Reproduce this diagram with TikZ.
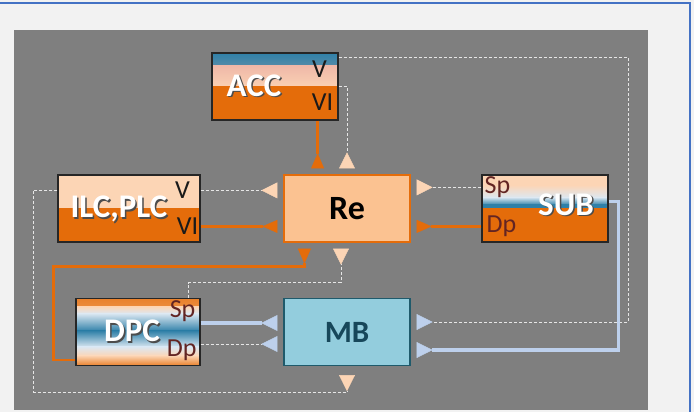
\documentclass[tikz,border=0pt]{standalone}
\usepackage{fontspec}
\setmainfont{Carlito}
\usetikzlibrary{positioning, calc, arrows.meta}

\definecolor{pagebg}{HTML}{F2F2F2}
\definecolor{framebl}{HTML}{4472C4}
\definecolor{panelgr}{HTML}{7F7F7F}
\definecolor{orng}{HTML}{E46C0A}
\definecolor{repeach}{HTML}{FBC291}
\definecolor{ltpeach}{HTML}{FCD5B5}
\definecolor{accpink}{HTML}{EFB8A8}
\definecolor{deepbl}{HTML}{2F80A8}
\definecolor{paleblue}{HTML}{DCE8F2}
\definecolor{lineblue}{HTML}{BDD0EC}
\definecolor{mbfill}{HTML}{93CDDD}
\definecolor{mbline}{HTML}{1F5A6B}
\definecolor{mbtext}{HTML}{17475A}
\definecolor{dashcol}{HTML}{E6E6E6}
\definecolor{porttext}{HTML}{1A1A1A}
\definecolor{portred}{HTML}{632523}

% horizontal colour band inside a box, from fraction #1 to #2 (top down)
\newcommand\hband[4]{\shade[top color=#3, bottom color=#4]
  ($(path picture bounding box.north west)!#1!(path picture bounding box.south west)$) rectangle
  ($(path picture bounding box.north east)!#2!(path picture bounding box.south east)$);}
\newcommand\shadowed[1]{\makebox[0pt][l]{\hspace{1.5pt}\raisebox{-1.5pt}{\textcolor{black!70}{#1}}}#1}

\begin{document}
\begin{tikzpicture}[x=1pt, y=-1pt,
boxnode/.style={rectangle, draw=black!85, line width=1.2pt, minimum width=126pt, minimum height=67pt, inner sep=0pt},
accfill/.style={path picture={\hband{0}{0.2}{deepbl}{accpink}\hband{0.19}{0.51}{accpink}{ltpeach!85!accpink}\hband{0.5}{1}{orng}{orng}}},
ilcfill/.style={path picture={\hband{0}{0.51}{ltpeach}{ltpeach}\hband{0.5}{1}{orng}{orng}}},
subfill/.style={path picture={\hband{0}{0.16}{ltpeach}{ltpeach}\hband{0.15}{0.34}{ltpeach}{paleblue}\hband{0.33}{0.45}{paleblue}{deepbl}\hband{0.44}{0.51}{deepbl}{deepbl}\hband{0.5}{1}{orng}{orng}}},
dpcfill/.style={path picture={\hband{0}{0.13}{orng!80!ltpeach}{ltpeach}\hband{0.12}{0.23}{ltpeach}{paleblue}\hband{0.22}{0.49}{paleblue}{deepbl}\hband{0.48}{0.73}{deepbl}{paleblue}\hband{0.72}{0.86}{paleblue}{ltpeach}\hband{0.85}{1}{ltpeach}{orng!80!ltpeach}}},
mainlbl/.style={text=white, font=\fontsize{33}{33}\selectfont\bfseries},
portlbl/.style={inner sep=0pt, text=porttext, font=\fontsize{26}{26}\selectfont},
dashline/.style={draw=dashcol, line width=1pt, dash pattern=on 3pt off 2pt},
orline/.style={draw=orng, line width=2.6pt},
blline/.style={draw=lineblue, line width=3.5pt},
ortip/.style={-{Triangle[reversed, length=15pt, width=13pt, line width=0.4pt, color=orng]}, shorten >=6pt},
peachtip/.style={-{Triangle[reversed, length=16pt, width=16pt, line width=0.4pt, color=ltpeach]}, shorten >=6pt},
bluetip/.style={-{Triangle[reversed, length=16pt, width=16pt, line width=0.4pt, color=lineblue]}, shorten >=6pt},
]
%Frame
\useasboundingbox (0,0) rectangle (694,412);
\fill[pagebg] (0,0) rectangle (694,412);
\fill[panelgr] (14,30) rectangle (648,410);
\draw[framebl, line width=2.5pt] (0,3) -| (690,412);

%Nodes
\node[boxnode, accfill, label={[mainlbl, xshift=-21pt]center:\shadowed{ACC}}] (ACC) at (275,86.5) {};
\node[boxnode, draw=orng, fill=repeach, font=\fontsize{34}{34}\selectfont\bfseries] (Re) at (347,208.5) {Re};
\node[boxnode, ilcfill, minimum width=142pt, label={[mainlbl, xshift=-10pt, yshift=-1.5pt]center:\shadowed{ILC,PLC}}] (ILC) at (129,208.5) {};
\node[boxnode, subfill, label={[mainlbl, xshift=21pt, yshift=3pt]center:\shadowed{SUB}}] (SUB) at (545,208.5) {};
\node[boxnode, dpcfill, minimum width=124pt, label={[mainlbl, xshift=-6pt]center:\shadowed{DPC}}] (DPC) at (138,332) {};
\node[boxnode, draw=mbline, fill=mbfill, text=mbtext, font=\fontsize{31}{31}\selectfont\bfseries] (MB) at (347,332) {MB};

%Ports
\node[portlbl] (accV) at ($(ACC.north east)+(-19,17)$) {V};
\node[portlbl] (accVI) at ($(ACC.north east)+(-16,50)$) {VI};
\node[portlbl] (ilcV) at ($(ILC.north east)+(-18,16)$) {V};
\node[portlbl] (ilcVI) at ($(ILC.north east)+(-13,52)$) {VI};
\node[portlbl, text=portred] (subSp) at ($(SUB.north west)+(16,13)$) {Sp};
\node[portlbl, text=portred] (subDp) at ($(SUB.north west)+(20,52)$) {Dp};
\node[portlbl, text=portred] (dpcSp) at ($(DPC.north east)+(-18,13)$) {Sp};
\node[portlbl, text=portred] (dpcDp) at ($(DPC.north east)+(-19,52)$) {Dp};
\coordinate (accVIpt) at ($(ACC.south east)+(-21,0)$);
\coordinate (accVpt) at ($(ACC.north east)+(0,5)$);
\coordinate (rightbus) at (628,322);

%Lines
\draw[orline, ortip] (accVIpt) -- (accVIpt |- Re.north);
\draw[dashline, peachtip] (ACC.east) -| (Re.north);
\draw[dashline, bluetip] (accVpt) -| (rightbus) -- (rightbus -| MB.east);
\draw[dashline, peachtip] (ilcV -| ILC.east) -- (ilcV -| Re.west);
\draw[orline, ortip] (ilcVI -| ILC.east) -- (ilcVI -| Re.west);
\draw[dashline, peachtip, shorten >=9pt] (ilcV -| ILC.west) -- ++(-24,0) |- ($(MB.south)+(0,26)$) -- (MB.south);
\draw[orline, ortip] ($(DPC.south west)+(0,-6)$) -- ++(-22,0) |- ($(Re.south west)+(21,24)$) -- ($(Re.south west)+(21,0)$);
\draw[dashline, peachtip] ($(DPC.north east)+(-12,0)$) |- ($(Re.south)+(-6,40)$) -- ($(Re.south)+(-6,0)$);
\draw[dashline, peachtip] (subSp -| SUB.west) -- (subSp -| Re.east);
\draw[orline, ortip] (subDp -| SUB.west) -- (subDp -| Re.east);
\draw[blline, bluetip] ($(SUB.east)+(0,-7)$) -- ++(10,0) |- ($(MB.east)+(0,18)$);
\draw[blline, bluetip] ($(DPC.east)+(0,-9)$) -- ($(MB.west)+(0,-9)$);
\draw[dashline, bluetip] ($(DPC.east)+(0,12)$) -- ($(MB.west)+(0,12)$);
\end{tikzpicture}
\end{document}
